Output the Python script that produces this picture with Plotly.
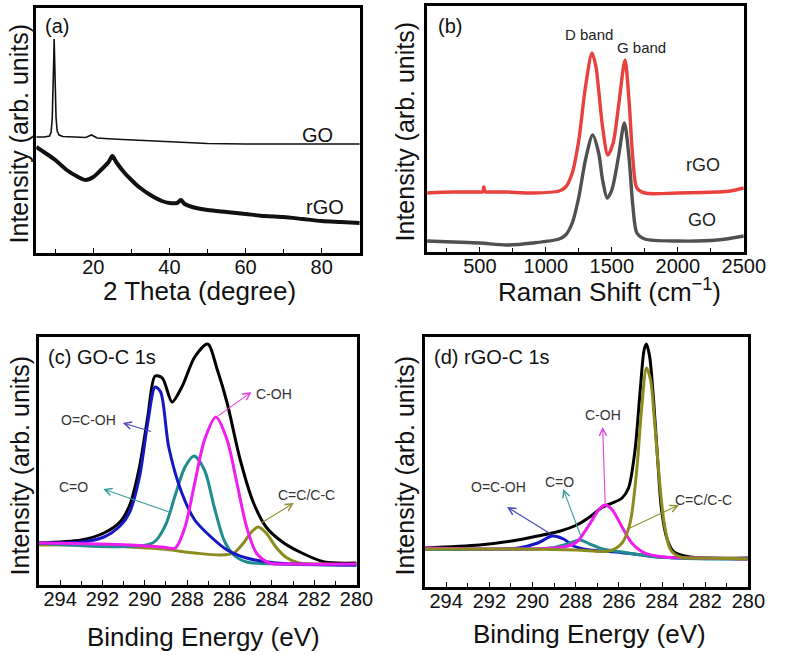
import plotly.graph_objects as go

W, H = 793, 655

# ---------------- (a) XRD ----------------
xrd_go_2theta = [5, 7, 8.5, 8.9, 9.2, 9.45, 9.6, 9.7, 9.8, 9.95, 10.2, 10.5, 11, 12, 15, 18, 19.5, 21, 25, 30, 35, 40, 45, 50, 60, 70, 80, 90]
xrd_go_int = [116, 116, 117, 121, 135, 160, 195, 214, 195, 160, 135, 122, 118, 116.5, 116, 115.5, 118, 115, 114, 113, 112, 111, 110, 109.5, 109, 109, 109, 109]

xrd_rgo_2theta = [5, 7, 10, 13, 16, 18, 20, 22, 24, 25, 26, 28, 30, 32, 35, 38, 40, 42, 43, 44, 46, 50, 55, 60, 65, 70, 75, 80, 85, 90]
xrd_rgo_int = [106, 101, 93, 83, 76, 73, 76, 83, 91, 97, 91, 81, 73, 66, 58, 52, 50, 50, 53, 49, 46, 43, 41, 39, 37, 36, 34, 32, 31, 30]

# ---------------- (b) Raman ----------------
raman_rgo_shift = [100, 300, 500, 520, 530, 540, 560, 700, 900, 1100, 1150, 1200, 1250, 1300, 1350, 1380, 1400, 1430, 1470, 1510, 1550, 1600, 1630, 1660, 1690, 1750, 2000, 2300, 2400, 2500]
raman_rgo_int = [59, 60, 60, 60, 65, 60, 60, 60, 59, 61, 65, 79, 112, 165, 199, 185, 162, 125, 97, 109, 145, 192, 152, 92, 64, 59, 59, 60, 61, 64]

raman_go_shift = [100, 300, 500, 700, 900, 1100, 1150, 1200, 1250, 1300, 1355, 1400, 1430, 1465, 1500, 1550, 1595, 1630, 1660, 1690, 1750, 2000, 2300, 2500]
raman_go_int = [11, 10, 9, 7, 9, 13, 17, 29, 55, 92, 117, 99, 72, 54, 62, 95, 129, 95, 45, 19, 13, 11, 12, 16]

# ---------------- (c) XPS GO C1s ----------------
xps_go_env_be = [295, 293.0, 291.93, 291.17, 290.71, 290.25, 289.86, 289.51, 289.17, 288.71, 288.25, 287.64, 287.03, 286.57, 286.11, 285.49, 284.88, 284.27, 283.5, 282.58, 281.51, 280]
xps_go_env_int = [42, 45, 52, 63, 80, 118, 168, 209, 207, 183, 198, 228, 241, 215, 182, 125, 83, 58, 43, 32, 23, 22]

xps_go_cooh_be = [295, 293.0, 291.93, 291.17, 290.71, 290.25, 289.86, 289.51, 289.25, 288.87, 288.25, 287.64, 286.87, 286.11, 285.19, 283.81, 280]
xps_go_cooh_int = [42, 43, 48, 59, 73, 108, 162, 198, 193, 138, 92, 65, 48, 35, 27, 22, 20]

xps_go_co_be = [295, 289.63, 289.02, 288.56, 288.1, 287.67, 287.18, 286.72, 286.26, 285.8, 285.19, 283.81, 280]
xps_go_co_int = [42, 42, 60, 90, 118, 129, 115, 78, 45, 30, 23, 21, 20]

xps_go_coh_be = [295, 290.71, 289.17, 288.56, 288.1, 287.64, 287.18, 286.64, 286.11, 285.65, 285.19, 284.73, 284.11, 283.04, 280]
xps_go_coh_int = [42, 40, 38, 37, 58, 102, 145, 168, 145, 102, 58, 32, 22, 21, 21]

xps_go_cc_be = [295, 292.24, 290.71, 289.17, 287.64, 286.41, 285.8, 285.34, 284.96, 284.65, 284.27, 283.81, 283.35, 282.73, 281.51, 280]
xps_go_cc_int = [40, 40, 38, 36, 32, 30, 32, 42, 53, 58, 52, 38, 28, 22, 21, 20]

# ---------------- (d) XPS rGO C1s ----------------
xps_rgo_env_be = [295, 292.46, 290.96, 289.76, 288.71, 287.95, 287.35, 286.75, 286.30, 285.85, 285.55, 285.25, 285.02, 284.83, 284.72, 284.57, 284.38, 284.2, 284.02, 283.75, 283.45, 282.69, 280]
xps_rgo_env_int = [39, 42, 46, 51, 56, 62, 70, 80, 84, 89, 99, 137, 194, 237, 243, 230, 184, 127, 77, 47, 35, 30, 29]

xps_rgo_cc_be = [295, 290.96, 287.95, 286.45, 285.85, 285.48, 285.17, 284.95, 284.72, 284.53, 284.35, 284.12, 283.9, 283.6, 283.15, 281.94, 280]
xps_rgo_cc_int = [38, 38, 37, 36, 44, 64, 117, 177, 219, 207, 167, 107, 64, 37, 30, 29, 28]

xps_rgo_coh_be = [295, 290.2, 288.55, 287.95, 287.35, 286.9, 286.63, 286.3, 285.85, 285.4, 284.8, 283.9, 281.94, 280]
xps_rgo_coh_int = [39, 38, 40, 45, 63, 78, 82, 77, 60, 44, 34, 30, 29, 28]

xps_rgo_co_be = [295, 289.16, 288.4, 287.8, 287.35, 286.75, 285.85, 284.95, 284.2, 281.94, 280]
xps_rgo_co_int = [38, 39, 43, 47, 43, 38, 35, 32, 30, 28, 28]

xps_rgo_cooh_be = [295, 290.66, 289.76, 289.08, 288.56, 288.1, 287.35, 286.15, 284.95, 284.2, 280]
xps_rgo_cooh_int = [38, 39, 44, 51, 48, 41, 37, 35, 32, 30, 28]

# ---------------- styling ----------------
FONT = "Liberation Sans, Arial, sans-serif"
C_BLUE, C_TEAL, C_MAG, C_OLIVE = "#1616c4", "#1f8d8d", "#f01cf0", "#8c8c1e"
A_BLUE, A_TEAL, A_MAG, A_OLIVE = "#4646b8", "#3c9c9c", "#e040e0", "#90902e"


def P(px, py):
    return px / W, 1 - py / H


fig = go.Figure()


def add(x, y, color, width, axis, shape="spline"):
    fig.add_trace(go.Scatter(x=x, y=y, mode="lines",
                             line=dict(color=color, width=width, shape=shape, smoothing=0.8),
                             xaxis="x" + axis, yaxis="y" + axis, hoverinfo="skip"))


# (a)
add(xrd_go_2theta, xrd_go_int, "#111111", 1.6, "", shape="linear")
add(xrd_rgo_2theta, xrd_rgo_int, "#111111", 4, "")
# (b)
add(raman_go_shift, raman_go_int, "#505050", 3.4, "2")
add(raman_rgo_shift, raman_rgo_int, "#e8413e", 3.4, "2")
# (c)
add(xps_go_env_be, xps_go_env_int, "#000000", 3, "3")
add(xps_go_cc_be, xps_go_cc_int, C_OLIVE, 3, "3")
add(xps_go_co_be, xps_go_co_int, C_TEAL, 3, "3")
add(xps_go_cooh_be, xps_go_cooh_int, C_BLUE, 3, "3")
add(xps_go_coh_be, xps_go_coh_int, C_MAG, 3, "3")
# (d)
add(xps_rgo_env_be, xps_rgo_env_int, "#000000", 3, "4")
add(xps_rgo_cooh_be, xps_rgo_cooh_int, C_BLUE, 3, "4")
add(xps_rgo_co_be, xps_rgo_co_int, C_TEAL, 3, "4")
add(xps_rgo_coh_be, xps_rgo_coh_int, C_MAG, 3, "4")
add(xps_rgo_cc_be, xps_rgo_cc_int, C_OLIVE, 3, "4")

# pixel boxes of the four panels: (left, top, right, bottom)
boxes = {
    "": (37.3, 8, 370, 253),
    "2": (439.3, 6, 765, 252),
    "3": (40, 337, 366.7, 585),
    "4": (436.7, 337, 769.7, 587),
}
xranges = {"": [5, 90], "2": [100, 2500], "3": [295, 280], "4": [295, 280]}
dticks = {"": 20, "2": 500, "3": 2, "4": 2}
yranges = {"": [0, 245], "2": [0, 246], "3": [0, 248], "4": [0, 250]}

layout = dict(
    width=W, height=H, margin=dict(l=0, r=0, t=0, b=0),
    paper_bgcolor="white", plot_bgcolor="white", showlegend=False,
    font=dict(family=FONT, color="#111111"),
)
for k, (l, t, r, b) in boxes.items():
    xdom = [l / W, r / W]
    ydom = [1 - b / H, 1 - t / H]
    layout["xaxis" + k] = dict(
        domain=xdom, range=xranges[k], anchor="y" + k,
        showline=True, linecolor="#000", linewidth=2.5, mirror=True,
        ticks="inside", ticklen=5, tickwidth=1.3, tickcolor="#000",
        dtick=dticks[k], tick0=0, ticklabelstandoff=-6,
        minor=dict(ticks="inside", ticklen=4, tickwidth=1.2, tickcolor="#000", dtick=dticks[k] / 2),
        showgrid=False, zeroline=False,
        tickfont=dict(size=20, family=FONT, color="#111"),
    )
    layout["yaxis" + k] = dict(
        domain=ydom, range=yranges[k], anchor="x" + k,
        showline=True, linecolor="#000", linewidth=2.5, mirror=True,
        ticks="", showticklabels=False, showgrid=False, zeroline=False,
    )
fig.update_layout(**layout)

ann = []


def text(px, py, s, size, color="#111111", angle=0):
    x, y = P(px, py)
    ann.append(dict(x=x, y=y, xref="paper", yref="paper", text=s, showarrow=False,
                    font=dict(size=size, family=FONT, color=color), textangle=angle,
                    xanchor="center", yanchor="middle"))


# axis titles
text(20, 133, "Intensity (arb. units)", 25, angle=-90)
text(417, 131, "Intensity (arb. units)", 25, angle=-90)
text(21, 465, "Intensity (arb. units)", 25, angle=-90)
text(417, 465, "Intensity (arb. units)", 25, angle=-90)
text(205, 291, "2 Theta (degree)", 26)
text(627, 291, "Raman Shift (cm<sup>−1</sup>)", 26)
text(209, 637, "Binding Energy (eV)", 26)
text(606, 634, "Binding Energy (eV)", 26)

# panel labels
text(59, 26, "(a)", 20)
text(463, 26, "(b)", 20)
text(105, 357, "(c) GO-C 1s", 20)
text(506, 357, "(d) rGO-C 1s", 20)

# curve labels
text(327, 135, "GO", 20)
text(334, 207, "rGO", 20)
text(606, 35, "D band", 15, "#222")
text(660, 48, "G band", 15, "#222")
text(723, 165, "rGO", 18, "#222")
text(722, 220, "GO", 18, "#222")

# XPS labels
text(91, 420, "O=C-OH", 14, "#333")
text(76, 487, "C=O", 14, "#333")
text(282, 394, "C-OH", 14, "#333")
text(315, 495, "C=C/C-C", 14, "#333")
text(513, 487, "O=C-OH", 14, "#333")
text(575, 482, "C=O", 14, "#333")
text(620, 415, "C-OH", 14, "#333")
text(724, 500, "C=C/C-C", 14, "#333")


def arrow(axis, tail, head, color):
    ann.append(dict(x=head[0], y=head[1], ax=tail[0], ay=tail[1],
                    xref="x" + axis, yref="y" + axis, axref="x" + axis, ayref="y" + axis,
                    text="", showarrow=True, arrowhead=5, arrowsize=1.3, arrowwidth=1.1,
                    arrowcolor=color, standoff=0, startstandoff=0))


arrow("3", (289.63, 153), (291.04, 162), A_BLUE)
arrow("3", (288.71, 72), (291.96, 96), A_TEAL)
arrow("3", (286.6, 168), (284.96, 193), A_MAG)
arrow("3", (284.57, 61), (282.96, 82), A_OLIVE)
arrow("4", (289.08, 52), (291.18, 80), A_BLUE)
arrow("4", (287.73, 49), (288.58, 98), A_TEAL)
arrow("4", (286.63, 82), (286.75, 160), A_MAG)
arrow("4", (285.58, 58), (283.22, 82), A_OLIVE)

fig.update_layout(annotations=ann)
fig.write_html("out.html", config={"displayModeBar": False},
               post_script="document.body.style.margin='0';")
